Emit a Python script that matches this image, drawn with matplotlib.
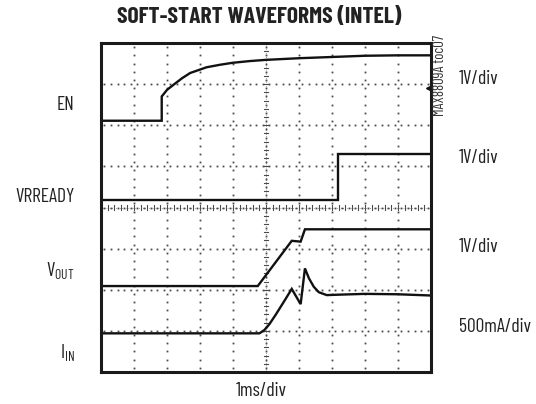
import numpy as np
import matplotlib
matplotlib.use("Agg")
import matplotlib.pyplot as plt

# ---- data (in scope divisions: x 0..10, y 0..8 from bottom) ----
en_x = [0.0, 1.84, 1.84, 2.0, 2.19, 2.45, 2.70, 3.2, 3.6, 4.0, 4.5, 5.0, 6.0, 7.0, 8.0, 9.0, 10.0]
en_y = [6.11, 6.11, 6.70, 6.86, 6.98, 7.14, 7.27, 7.41, 7.47, 7.52, 7.56, 7.59, 7.63, 7.66, 7.69, 7.70, 7.70]

rdy_x = [0.0, 7.19, 7.19, 10.0]
rdy_y = [4.18, 4.18, 5.30, 5.30]

vout_x = [0.0, 4.75, 5.78, 6.05, 6.18, 10.0]
vout_y = [2.09, 2.09, 3.19, 3.17, 3.47, 3.47]

iin_x = [0.0, 4.80, 4.95, 5.10, 5.30, 5.55, 5.78, 6.05, 6.18, 6.30, 6.45, 6.60, 6.84, 7.2, 8.0, 9.0, 10.0]
iin_y = [0.94, 0.94, 1.02, 1.16, 1.40, 1.72, 2.02, 1.65, 2.52, 2.28, 2.07, 1.94, 1.87, 1.88, 1.90, 1.89, 1.86]

left_labels = ["EN", "VRREADY", r"V$_{\mathregular{OUT}}$", r"I$_{\mathregular{IN}}$"]
left_label_y = [6.5, 4.25, 2.45, 0.45]
right_labels = ["1V/div", "1V/div", "1V/div", "500mA/div"]
right_label_y = [7.12, 5.2, 3.05, 1.1]
title = "SOFT-START WAVEFORMS (INTEL)"
xlabel = "1ms/div"
note = "MAX8809A toc07"

FONT = ["Barlow Condensed", "DejaVu Sans"]
plt.rcParams["font.family"] = FONT
plt.rcParams["mathtext.fontset"] = "custom"
plt.rcParams["mathtext.rm"] = "Barlow Condensed"

fig = plt.figure(figsize=(5.36, 4.04), dpi=100)
ax = fig.add_axes([101/536, 32/404, 330/536, 329/404])
ax.set_xlim(0, 10)
ax.set_ylim(0, 8)
ax.set_xticks([])
ax.set_yticks([])
for s in ax.spines.values():
    s.set_linewidth(2.2)
    s.set_color("#1a1a1a")

gc = "#4a4a4a"
# dotted grid
for gx in range(1, 10):
    ys = np.arange(0.1, 8, 0.2)
    ax.plot([gx]*len(ys), ys, ls="none", marker="s", ms=1.3, color=gc, mew=0)
for gy in range(1, 8):
    xs = np.arange(0.1, 10, 0.2)
    ax.plot(xs, [gy]*len(xs), ls="none", marker="s", ms=1.3, color=gc, mew=0)
# centre axes with minor ticks
ax.plot([5, 5], [0, 8], color=gc, lw=0.5, ls=(0, (1, 2)))
ax.plot([0, 10], [4, 4], color=gc, lw=0.5, ls=(0, (1, 2)))
for t in np.arange(0.2, 8, 0.2):
    ax.plot([4.93, 5.07], [t, t], color=gc, lw=0.8)
for t in np.arange(0.2, 10, 0.2):
    ax.plot([t, t], [3.95, 4.05], color=gc, lw=0.8)

# traces
for xs, ys in [(en_x, en_y), (rdy_x, rdy_y), (vout_x, vout_y), (iin_x, iin_y)]:
    ax.plot(xs, ys, color="#111111", lw=1.7, solid_joinstyle="miter")

# reference marker on right edge
ax.plot([9.93], [6.9], marker="<", ms=5, color="#111111", clip_on=False)

ax.text(4.8, 8.38, title, ha="center", va="bottom", fontsize=17, fontweight="bold", color="#222222")
ax.text(4.85, -0.25, xlabel, ha="center", va="top", fontsize=14, color="#222222")

for lab, yv in zip(left_labels, left_label_y):
    ax.text(-0.8, yv, lab, ha="right", va="center", fontsize=14, color="#222222")
for lab, yv in zip(right_labels, right_label_y):
    ax.text(10.85, yv, lab, ha="left", va="center", fontsize=14, color="#222222")

ax.text(10.28, 8.2, note, rotation=90, ha="center", va="top", fontsize=10.5, color="#333333")

fig.savefig("out.png", dpi=100)
